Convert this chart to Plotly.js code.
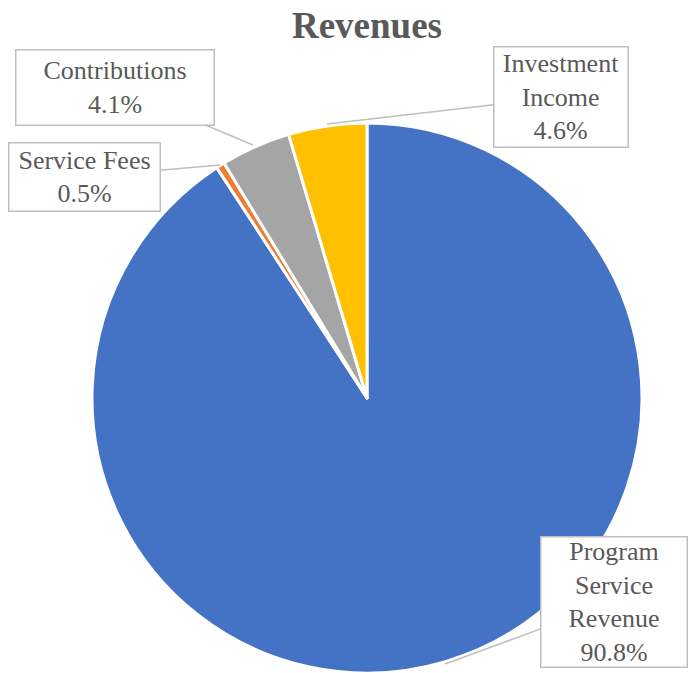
<!DOCTYPE html>
<html>
<head>
<meta charset="utf-8">
<script src="https://cdn.plot.ly/plotly-3.0.1.min.js"></script>
<style>html,body{margin:0;padding:0;background:#fff;}#chart{width:688px;height:673px;}</style>
</head>
<body>
<div id="chart"></div>
<script>
// Data
const categories = ["Program Service Revenue", "Service Fees", "Contributions", "Investment Income"];
const values = [90.8, 0.5, 4.1, 4.6];
const labelLines = [["Program", "Service", "Revenue"], ["Service Fees"], ["Contributions"], ["Investment", "Income"]];
const colors = ["#4472C4", "#ED7D31", "#A5A5A5", "#FFC000"];

const W = 688, H = 673;
const cx = 367, cy = 398, R = 275;
const px = v => v / W;
const py = v => 1 - v / H;
const FONT = '"Liberation Serif", serif';

// callout placement (tip = point on slice, box = center/size of label box)
const callouts = [
  {tip: [445, 664], box: [614, 602], w: 145, h: 129},
  {tip: [220, 165], box: [84, 177], w: 150, h: 67},
  {tip: [253, 145], box: [115, 87], w: 197, h: 74},
  {tip: [327, 124], box: [561, 97], w: 133, h: 99}
];

const annotations = categories.map((c, i) => {
  const co = callouts[i];
  return {
    xref: 'paper', yref: 'paper',
    x: px(co.tip[0]), y: py(co.tip[1]),
    ax: co.box[0] - co.tip[0], ay: co.box[1] - co.tip[1],
    showarrow: true, arrowhead: 0, arrowwidth: 1.5, arrowcolor: '#BFBFBF',
    text: labelLines[i].concat([values[i].toFixed(1) + '%']).join('<br>'),
    font: {family: FONT, size: 26, color: '#595959'},
    bgcolor: '#FFFFFF', bordercolor: '#BFBFBF', borderwidth: 1.5, borderpad: 0,
    width: co.w, height: co.h, align: 'center', valign: 'middle'
  };
});

const trace = {
  type: 'pie',
  labels: categories,
  values: values,
  sort: false,
  direction: 'clockwise',
  rotation: 0,
  marker: {colors: colors, line: {color: '#FFFFFF', width: 3}},
  textinfo: 'none',
  hoverinfo: 'label+percent',
  showlegend: false,
  domain: {x: [px(cx - R), px(cx + R)], y: [py(cy + R), py(cy - R)]}
};

const layout = {
  width: W, height: H,
  margin: {l: 0, r: 0, t: 0, b: 0},
  paper_bgcolor: '#FFFFFF',
  font: {family: FONT, color: '#595959'},
  title: {
    text: '<b>Revenues</b>',
    font: {family: FONT, size: 37, color: '#595959'},
    x: 367 / W, xanchor: 'center', y: 1 - 25 / H, yanchor: 'middle', yref: 'container'
  },
  annotations: annotations,
  showlegend: false
};

Plotly.newPlot('chart', [trace], layout, {displayModeBar: false, staticPlot: true});
</script>
</body>
</html>
